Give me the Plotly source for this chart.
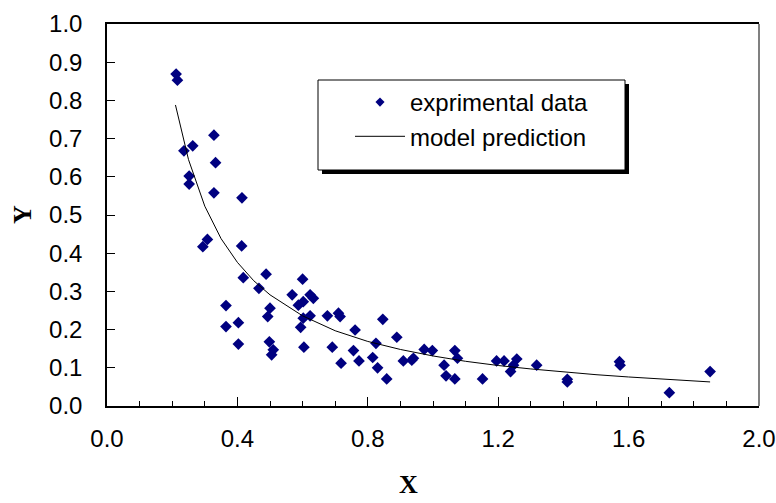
import plotly.graph_objects as go

exp_x = [0.212, 0.216, 0.328, 0.263, 0.236, 0.333, 0.252, 0.252, 0.328, 0.414,
         0.294, 0.308, 0.413, 0.418, 0.488, 0.466, 0.600, 0.568, 0.623, 0.633,
         0.587, 0.602, 0.365, 0.500, 0.493, 0.676, 0.710, 0.715, 0.602, 0.623,
         0.594, 0.365, 0.403, 0.761, 0.403, 0.498, 0.510, 0.505, 0.604, 0.691,
         0.756, 0.718, 0.773, 0.815, 0.825, 0.830, 0.846, 0.889, 0.858, 0.909,
         0.940, 0.935, 0.973, 0.998, 1.034, 1.040, 1.067, 1.075, 1.067, 1.152,
         1.195, 1.218, 1.257, 1.247, 1.238, 1.318, 1.412, 1.412, 1.572, 1.574,
         1.725, 1.850]
exp_y = [0.869, 0.853, 0.709, 0.681, 0.668, 0.637, 0.602, 0.581, 0.558, 0.545,
         0.417, 0.436, 0.419, 0.336, 0.345, 0.308, 0.332, 0.291, 0.291, 0.282,
         0.264, 0.273, 0.263, 0.256, 0.234, 0.236, 0.243, 0.234, 0.230, 0.236,
         0.206, 0.208, 0.218, 0.199, 0.162, 0.168, 0.147, 0.134, 0.154, 0.154,
         0.145, 0.112, 0.118, 0.127, 0.164, 0.100, 0.227, 0.180, 0.071, 0.118,
         0.125, 0.120, 0.148, 0.145, 0.107, 0.079, 0.145, 0.125, 0.071, 0.071,
         0.118, 0.118, 0.123, 0.107, 0.090, 0.107, 0.070, 0.063, 0.116, 0.107,
         0.035, 0.090]

# Model prediction curve
model_x = [0.21, 0.25, 0.30, 0.35, 0.40, 0.45, 0.50, 0.60, 0.70, 0.80,
           0.90, 1.00, 1.10, 1.20, 1.30, 1.40, 1.50, 1.60, 1.70, 1.85]
model_y = [0.788, 0.645, 0.523, 0.438, 0.376, 0.328, 0.291, 0.236, 0.197, 0.169,
           0.148, 0.131, 0.117, 0.106, 0.097, 0.089, 0.082, 0.076, 0.071, 0.063]

x_ticks = [0.0, 0.4, 0.8, 1.2, 1.6, 2.0]
y_ticks = [0.0, 0.1, 0.2, 0.3, 0.4, 0.5, 0.6, 0.7, 0.8, 0.9, 1.0]

NAVY = "#000080"
SANS = "Liberation Sans, Arial, sans-serif"
SERIF = "Liberation Serif, Times New Roman, serif"

fig = go.Figure()
fig.add_trace(go.Scatter(x=exp_x, y=exp_y, mode="markers", showlegend=False,
                         marker=dict(symbol="diamond", size=9, color=NAVY,
                                     line=dict(width=0))))
fig.add_trace(go.Scatter(x=model_x, y=model_y, mode="lines", showlegend=False,
                         line=dict(color="black", width=1)))
# legend-only entries
fig.add_trace(go.Scatter(x=[None], y=[None], mode="markers", name="exprimental data",
                         marker=dict(symbol="diamond", size=7, color=NAVY, line=dict(width=0))))
fig.add_trace(go.Scatter(x=[None], y=[None], mode="lines", name="model prediction",
                         line=dict(color="black", width=1)))

L, R, T, B = 107, 17, 24, 97
W, H = 776, 503
pw, ph = W - L - R, H - T - B

def px2paper(px, py):
    return (px - L) / pw, (H - B - py) / ph

bx0, by0 = px2paper(318, 170)
bx1, by1 = px2paper(625, 80)
dx, dy = 4 / pw, 4 / ph

shapes = [
    dict(type="rect", xref="paper", yref="paper", x0=bx0 + dx, x1=bx1 + dx,
         y0=by0 - dy, y1=by1 - dy, fillcolor="black", line=dict(width=0), layer="above"),
    dict(type="rect", xref="paper", yref="paper", x0=bx0, x1=bx1, y0=by0, y1=by1,
         fillcolor="white", line=dict(color="black", width=1), layer="above"),
    dict(type="line", xref="paper", yref="paper", x0=1, x1=1, y0=0, y1=1,
         line=dict(color="#808080", width=2), layer="above"),
]

lx, ly = px2paper(350, 80)
xt_x, xt_y = px2paper(408, 485)
yt_x, yt_y = px2paper(22, 215)

annotations = [
    dict(text="<b>X</b>", xref="paper", yref="paper", x=xt_x, y=xt_y,
         xanchor="center", yanchor="middle", showarrow=False,
         font=dict(family=SERIF, size=26, color="black")),
    dict(text="<b>Y</b>", xref="paper", yref="paper", x=yt_x, y=yt_y,
         xanchor="center", yanchor="middle", showarrow=False, textangle=-90,
         font=dict(family=SERIF, size=26, color="black")),
]

fig.update_layout(
    width=W, height=H,
    margin=dict(l=L, r=R, t=T, b=B),
    paper_bgcolor="white", plot_bgcolor="white",
    font=dict(family=SANS, size=24, color="black"),
    shapes=shapes,
    annotations=annotations,
    legend=dict(x=lx, y=ly, xanchor="left", yanchor="top",
                bgcolor="rgba(0,0,0,0)", borderwidth=0,
                font=dict(family=SANS, size=24, color="black"),
                itemwidth=50, tracegroupgap=0),
    xaxis=dict(range=[0, 2], tickvals=x_ticks, tickformat=".1f",
               ticks="inside", ticklen=9, tickwidth=1, tickcolor="black",
               minor=dict(dtick=0.1, ticks="inside", ticklen=5, tickwidth=1, tickcolor="black"),
               showline=True, linecolor="black", linewidth=1.5, mirror=True,
               showgrid=False, zeroline=False, automargin=False,
               tickfont=dict(family=SANS, size=24),
               ticklabelstandoff=10),
    yaxis=dict(range=[0, 1], tickvals=y_ticks, tickformat=".1f",
               ticks="inside", ticklen=8, tickwidth=1, tickcolor="black",
               showline=True, linecolor="black", linewidth=1.5,
               showgrid=False, zeroline=False, automargin=False,
               tickfont=dict(family=SANS, size=24),
               ticklabelstandoff=18),
)

fig.write_html("out.html")
